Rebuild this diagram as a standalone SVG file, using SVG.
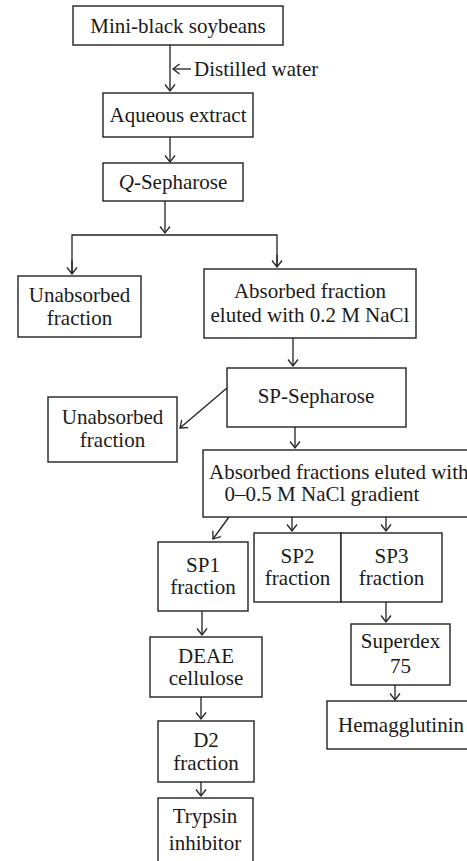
<svg xmlns="http://www.w3.org/2000/svg" width="467" height="861" viewBox="0 0 467 861">
<style>
.box{fill:#fff;stroke:#222;stroke-width:1.4}
.t{font-family:"Liberation Serif","Times New Roman",serif;font-size:21px;fill:#1a1a1a;text-anchor:middle}
.c{fill:none;stroke:#222;stroke-width:1.3}
</style>
<defs>
<marker id="ah" markerUnits="userSpaceOnUse" markerWidth="14" markerHeight="14" viewBox="-8 -7 10 14" refX="0" refY="0" orient="auto" overflow="visible">
<path d="M-6.5,-5 L0,0 L-6.5,5" fill="none" stroke="#222" stroke-width="1.3"/>
</marker>
</defs>
<rect width="467" height="861" fill="#fff"/>
<g id="connectors">
<line class="c" x1="170" y1="45" x2="170" y2="91" marker-end="url(#ah)"/>
<line class="c" x1="191" y1="69" x2="173" y2="69" marker-end="url(#ah)"/>
<line class="c" x1="170" y1="137" x2="170" y2="162" marker-end="url(#ah)"/>
<line class="c" x1="165" y1="201" x2="165" y2="233" marker-end="url(#ah)"/>
<polyline class="c" points="72,274 72,235 277,235 277,267"/>
<line class="c" x1="72" y1="260" x2="72" y2="274" marker-end="url(#ah)"/>
<line class="c" x1="277" y1="255" x2="277" y2="267" marker-end="url(#ah)"/>
<line class="c" x1="293" y1="338" x2="293" y2="366" marker-end="url(#ah)"/>
<line class="c" x1="227" y1="388" x2="180" y2="428" marker-end="url(#ah)"/>
<line class="c" x1="295" y1="427" x2="295" y2="448" marker-end="url(#ah)"/>
<line class="c" x1="229" y1="517" x2="213" y2="539" marker-end="url(#ah)"/>
<line class="c" x1="292" y1="517" x2="292" y2="531" marker-end="url(#ah)"/>
<line class="c" x1="386" y1="517" x2="386" y2="531" marker-end="url(#ah)"/>
<line class="c" x1="202" y1="611" x2="202" y2="635" marker-end="url(#ah)"/>
<line class="c" x1="386" y1="602" x2="386" y2="622" marker-end="url(#ah)"/>
<line class="c" x1="395" y1="685" x2="395" y2="700" marker-end="url(#ah)"/>
<line class="c" x1="201" y1="697" x2="201" y2="719" marker-end="url(#ah)"/>
<line class="c" x1="201" y1="782" x2="201" y2="796" marker-end="url(#ah)"/>
</g>
<g id="n-mini"><rect class="box" x="73" y="6" width="210" height="39"/><text class="t" x="178" y="33">Mini-black soybeans</text></g>
<text class="t" x="194" y="76" style="text-anchor:start">Distilled water</text>
<g id="n-aqueous"><rect class="box" x="103" y="93" width="150" height="44"/><text class="t" x="178" y="122">Aqueous extract</text></g>
<g id="n-q"><rect class="box" x="103" y="163" width="140" height="38"/><text class="t" x="173" y="189"><tspan font-style="italic">Q</tspan>-Sepharose</text></g>
<g id="n-unabs1"><rect class="box" x="18" y="276" width="123" height="61"/><text class="t" x="79.5" y="302">Unabsorbed</text><text class="t" x="79.5" y="325">fraction</text></g>
<g id="n-abs1"><rect class="box" x="204" y="269" width="212" height="69"/><text class="t" x="310" y="298">Absorbed fraction</text><text class="t" x="310" y="322">eluted with 0.2 M NaCl</text></g>
<g id="n-sp"><rect class="box" x="227" y="368" width="179" height="59"/><text class="t" x="316" y="403">SP-Sepharose</text></g>
<g id="n-unabs2"><rect class="box" x="48" y="397" width="129" height="65"/><text class="t" x="112.5" y="424">Unabsorbed</text><text class="t" x="112.5" y="447">fraction</text></g>
<g id="n-abs2"><rect class="box" x="203" y="450" width="280" height="67"/><text class="t" x="209" y="479" style="text-anchor:start">Absorbed fractions eluted with</text><text class="t" x="322" y="501">0–0.5 M NaCl gradient</text></g>
<g id="n-sp1"><rect class="box" x="158" y="542" width="90" height="69"/><text class="t" x="203" y="572">SP1</text><text class="t" x="203" y="594">fraction</text></g>
<g id="n-sp2"><rect class="box" x="254" y="533" width="87" height="69"/><text class="t" x="297.5" y="563">SP2</text><text class="t" x="297.5" y="585">fraction</text></g>
<g id="n-sp3"><rect class="box" x="341" y="533" width="101" height="69"/><text class="t" x="391.5" y="563">SP3</text><text class="t" x="391.5" y="585">fraction</text></g>
<g id="n-superdex"><rect class="box" x="351" y="624" width="99" height="61"/><text class="t" x="400.5" y="648">Superdex</text><text class="t" x="400.5" y="673">75</text></g>
<g id="n-hem"><rect class="box" x="327" y="701" width="150" height="48"/><text class="t" x="401" y="732">Hemagglutinin</text></g>
<g id="n-deae"><rect class="box" x="150" y="637" width="112" height="60"/><text class="t" x="206" y="663">DEAE</text><text class="t" x="206" y="685">cellulose</text></g>
<g id="n-d2"><rect class="box" x="158" y="721" width="96" height="61"/><text class="t" x="206" y="747">D2</text><text class="t" x="206" y="770">fraction</text></g>
<g id="n-trypsin"><rect class="box" x="158" y="798" width="95" height="70"/><text class="t" x="205" y="823">Trypsin</text><text class="t" x="205" y="850">inhibitor</text></g>
</svg>
